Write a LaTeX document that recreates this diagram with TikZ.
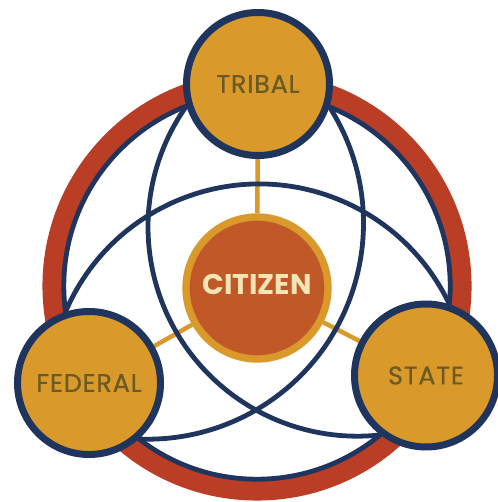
\documentclass[tikz,border=0pt]{standalone}
\usepackage{fontspec}
\setmainfont{Poppins}
\newfontfamily\govfont{Poppins}[FakeBold=0.6, LetterSpace=3]
\usetikzlibrary{backgrounds}
\definecolor{ringred}{HTML}{B93E25}
\definecolor{navy}{HTML}{1F355E}
\definecolor{gold}{HTML}{D99A2B}
\definecolor{citred}{HTML}{C05828}
\definecolor{olive}{HTML}{6B5A24}
\definecolor{cream}{HTML}{F5E5B5}
\tikzset{
  gov/.style={circle, draw=navy, line width=7pt, fill=gold, minimum size=143pt, inner sep=0pt,
    text=olive, font=\govfont\fontsize{25.5}{26}\selectfont},
  citz/.style={circle, draw=gold, line width=7.3pt, fill=citred, minimum size=142pt, inner sep=0pt},
  citzlabel/.style={inner sep=0pt, text=cream, font=\fontsize{28.5}{29}\selectfont\bfseries},
  spoke/.style={draw=gold, line width=4.5pt},
  band/.style={draw=navy, line width=4.8pt},
  redring/.style={draw=ringred, line width=19.5pt},
}
\begin{document}
\begin{tikzpicture}[x=1pt,y=-1pt]
\useasboundingbox (0,0) rectangle (497,502);
% nodes
\node[gov] (tribal) at (258,84) {TRIBAL};
\node[gov] (federal) at (89,383) {FEDERAL};
\node[gov] (state) at (426,375.5) {STATE};
\node[citz] (citizen) at (257,288) {};
\node[citzlabel] (citizentext) at (257,284) {CITIZEN};
\begin{scope}[on background layer]
  \coordinate (O) at (257,286);
  \draw[redring] (O) circle[radius=204.8];
  \draw[band] (O) circle[radius=193.2];
  \draw[spoke] (tribal) -- (citizen);
  \draw[spoke] (federal) -- (citizen);
  \draw[spoke] (state) -- (citizen);
  % arcs from junctions
  \coordinate (TL) at (186.4,106.1);
  \coordinate (TR) at (329.4,106.9);
  \coordinate (FU) at (65.5,311.8);
  \draw[band] (TL) arc[start angle=215.25, end angle=83.7, radius=209.3];
  \draw[band] (TR) arc[start angle=-32.63, end angle=92.3, radius=215.9];
  \draw[band] (FU) arc[start angle=203.14, end angle=334.6, radius=210.6];
\end{scope}
\end{tikzpicture}
\end{document}
